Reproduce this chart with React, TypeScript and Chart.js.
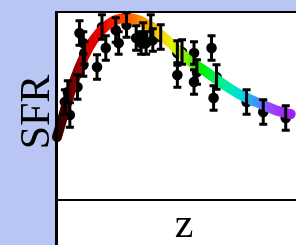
import React, { useEffect, useRef } from "react";
import { Chart, registerables } from "chart.js";

Chart.register(...registerables);

// Observed SFR measurements (z, SFR, error)
const obsZ = [0.27, 0.37, 0.44, 0.70, 0.77, 0.90, 0.94, 0.90, 1.37, 1.54, 1.67, 2.01, 2.11, 2.38, 2.71, 2.88, 2.95, 3.05, 3.21, 3.28, 3.55, 4.12, 4.28, 4.69, 5.29, 4.12, 4.69, 4.79, 5.46, 5.36, 6.49, 7.06, 7.83];
const obsSFR = [5.21, 5.74, 4.52, 6.01, 8.88, 8.35, 7.82, 7.18, 7.07, 9.20, 8.09, 9.04, 8.35, 9.31, 8.62, 8.35, 8.78, 8.35, 9.20, 8.51, 8.67, 7.82, 7.87, 7.82, 8.09, 6.65, 6.28, 6.81, 6.54, 5.43, 5.21, 4.68, 4.36];
const obsErr = [0.65, 0.6, 0.65, 0.65, 0.65, 0.6, 0.6, 0.6, 0.65, 0.65, 0.65, 0.65, 0.6, 0.65, 0.65, 0.6, 0.65, 0.6, 0.65, 0.6, 0.65, 0.65, 0.65, 0.6, 0.65, 0.65, 0.65, 0.65, 0.65, 0.65, 0.65, 0.65, 0.65];

// Model curve
const modelZ = [0, 0.20, 0.37, 0.77, 1.10, 1.44, 1.87, 2.38, 2.78, 3.11, 3.88, 4.45, 5.02, 5.79, 6.36, 6.90, 7.46, 8.00];
const modelSFR = [3.35, 4.41, 5.32, 7.07, 8.14, 8.88, 9.47, 9.68, 9.57, 9.31, 8.35, 7.50, 6.91, 6.06, 5.53, 5.16, 4.79, 4.57];

const xLabel = "z";
const yLabel = "SFR";

const LAVENDER = "#b9c5f2";

export default function App() {
  const ref = useRef<HTMLCanvasElement>(null);

  useEffect(() => {
    const canvas = ref.current!;
    const framePlugin = {
      id: "frame",
      beforeDraw(chart: any) {
        const { ctx, width, height, chartArea } = chart;
        ctx.save();
        ctx.fillStyle = LAVENDER;
        ctx.fillRect(0, 0, width, height);
        ctx.fillStyle = "#ffffff";
        ctx.fillRect(chartArea.left, chartArea.top, width - chartArea.left, height - chartArea.top);
        ctx.restore();
      },
      afterDatasetsDraw(chart: any) {
        const { ctx } = chart;
        const meta = chart.getDatasetMeta(1);
        const ys = chart.scales.y;
        ctx.save();
        ctx.strokeStyle = "#000";
        ctx.lineWidth = 3;
        meta.data.forEach((el: any, i: number) => {
          const x = el.x;
          const yt = ys.getPixelForValue(obsSFR[i] + obsErr[i]);
          const yb = ys.getPixelForValue(obsSFR[i] - obsErr[i]);
          ctx.beginPath();
          ctx.moveTo(x, yt);
          ctx.lineTo(x, yb);
          ctx.moveTo(x - 4, yt);
          ctx.lineTo(x + 4, yt);
          ctx.moveTo(x - 4, yb);
          ctx.lineTo(x + 4, yb);
          ctx.stroke();
        });
        ctx.restore();
      },
      afterDraw(chart: any) {
        const { ctx, width, height, chartArea } = chart;
        ctx.save();
        ctx.fillStyle = "#000";
        // left border
        ctx.fillRect(chartArea.left - 2, chartArea.top - 1, 3, height - chartArea.top + 1);
        // top border
        ctx.fillRect(chartArea.left - 2, chartArea.top - 1, width - chartArea.left + 2, 2);
        // x axis line
        ctx.fillRect(chartArea.left, chartArea.bottom - 1, width - chartArea.left, 2);
        ctx.font = '42px "Liberation Serif", serif';
        ctx.textAlign = "center";
        ctx.textBaseline = "alphabetic";
        ctx.fillText(xLabel, 184, 237);
        ctx.translate(49, 112);
        ctx.rotate(-Math.PI / 2);
        ctx.fillText(yLabel, 0, 0);
        ctx.restore();
      },
    };

    const chart = new Chart(canvas, {
      type: "scatter",
      data: {
        datasets: [
          {
            data: modelZ.map((z, i) => ({ x: z, y: modelSFR[i] })),
            showLine: true,
            borderWidth: 10,
            pointRadius: 0,
            cubicInterpolationMode: "monotone",
            borderCapStyle: "round",
            clip: false,
            borderColor: (ctx: any) => {
              const ca = ctx.chart.chartArea;
              if (!ca) return "#f00";
              const g = ctx.chart.ctx.createLinearGradient(ca.left, 0, ca.right, 0);
              g.addColorStop(0, "#200000");
              g.addColorStop(0.05, "#580000");
              g.addColorStop(0.12, "#d00000");
              g.addColorStop(0.2, "#f00000");
              g.addColorStop(0.28, "#ff4000");
              g.addColorStop(0.35, "#ff8800");
              g.addColorStop(0.43, "#ffc800");
              g.addColorStop(0.49, "#e8f000");
              g.addColorStop(0.56, "#70f000");
              g.addColorStop(0.62, "#00f000");
              g.addColorStop(0.72, "#00f0a0");
              g.addColorStop(0.79, "#00d8e0");
              g.addColorStop(0.86, "#4888ff");
              g.addColorStop(0.92, "#a040ff");
              g.addColorStop(1, "#a020f0");
              return g;
            },
          } as any,
          {
            data: obsZ.map((z, i) => ({ x: z, y: obsSFR[i] })),
            pointRadius: 5.3,
            pointBackgroundColor: "#000",
            pointBorderColor: "#000",
            pointBorderWidth: 0,
            clip: false,
          } as any,
        ],
      },
      options: {
        responsive: false,
        animation: false,
        devicePixelRatio: 1,
        layout: { padding: { left: 57, top: 12, right: 0, bottom: 45 } },
        plugins: { legend: { display: false }, tooltip: { enabled: false } },
        scales: {
          x: { type: "linear", min: 0, max: 8, display: false },
          y: { type: "linear", min: 0, max: 10, display: false },
        },
      },
      plugins: [framePlugin],
    });
    return () => chart.destroy();
  }, []);

  return (
    <div style={{ position: "absolute", left: 0, top: 0, width: 296, height: 245, overflow: "hidden" }}>
      <canvas ref={ref} width={296} height={245} style={{ width: 296, height: 245, display: "block" }} />
    </div>
  );
}
